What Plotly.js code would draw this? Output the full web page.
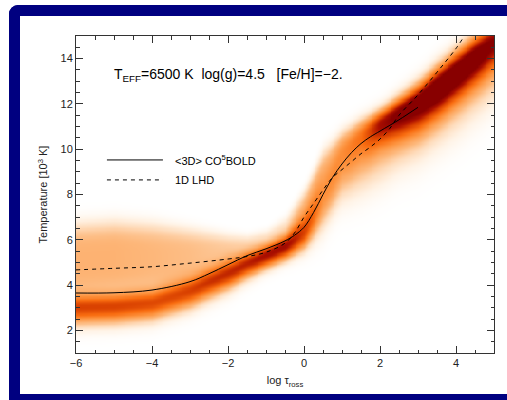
<!DOCTYPE html>
<html>
<head>
<meta charset="utf-8">
<script src="https://cdn.plot.ly/plotly-3.0.1.min.js"></script>
<style>
html,body{margin:0;padding:0;background:#fff;}
#wrap{position:relative;width:507px;height:400px;overflow:hidden;}
#plot{position:absolute;left:0;top:0;width:507px;height:400px;}
#frame{position:absolute;left:9px;top:5px;width:487px;height:378px;border-top:11px solid #000080;border-left:11px solid #000080;border-bottom:6px solid #000080;border-right:0;border-top-left-radius:9px;pointer-events:none;}
</style>
</head>
<body>
<div id="wrap"><div id="plot"></div><div id="frame"></div></div>
<script>
// ---- Mean temperature structures ----
const co5boldX = [-6, -5, -4, -3, -2.5, -2, -1.5, -1, -0.5, -0.25, 0, 0.25, 0.5, 0.75, 1, 1.25, 1.5, 1.75, 2, 2.5, 3];
const co5boldT = [3.65, 3.66, 3.78, 4.15, 4.5, 4.9, 5.3, 5.6, 5.95, 6.2, 6.55, 7.2, 8.0, 8.75, 9.35, 9.85, 10.25, 10.55, 10.8, 11.3, 11.85];
const lhdX = [-6, -5, -4, -3, -2, -1.5, -1, -0.5, -0.25, 0, 0.25, 0.5, 0.75, 1, 1.25, 1.5, 1.75, 2, 2.25, 2.5, 3, 3.5, 4, 4.2];
const lhdT = [4.67, 4.74, 4.81, 4.97, 5.15, 5.26, 5.45, 5.85, 6.3, 7.0, 7.6, 8.2, 8.75, 9.1, 9.45, 9.8, 10.1, 10.45, 10.9, 11.5, 12.4, 13.4, 14.45, 14.95];

// ---- Temperature distribution (read per log tau column) ----
const colX    = [-6, -5, -4, -3, -2, -1.5, -1, -0.5, 0, 0.5, 1, 1.5, 2, 2.5, 3, 3.5, 4, 4.5, 5];
const coreT   = [3.0, 3.05, 3.2, 3.7, 4.5, 4.95, 5.35, 5.75, 6.3, 7.8, 9.8, 10.6, 11.15, 11.65, 12.15, 12.8, 13.5, 14.2, 14.9];
const coreLo  = [0.5, 0.5, 0.5, 0.5, 0.5, 0.45, 0.4, 0.4, 0.5, 0.9, 0.9, 0.8, 0.7, 0.8, 0.9, 0.9, 0.9, 0.9, 0.9];
const coreHi  = [0.4, 0.4, 0.4, 0.4, 0.4, 0.35, 0.3, 0.3, 0.6, 0.9, 0.6, 0.5, 0.45, 0.5, 0.55, 0.6, 0.6, 0.6, 0.6];
const coreAmp = [0.72, 0.72, 0.7, 0.66, 0.62, 0.66, 0.72, 0.72, 0.5, 0.18, 0.18, 0.3, 0.66, 0.85, 0.95, 1.05, 1.05, 1.0, 0.85];
const diffT   = [5.1, 5.2, 5.2, 5.2, 5.3, 5.5, 5.7, 6.0, 7.0, 8.4, 9.5, 10.0, 10.4, 10.9, 11.4, 12.0, 12.6, 13.3, 14.0];
const diffLo  = [1.4, 1.4, 1.3, 1.2, 1.0, 0.8, 0.8, 0.8, 1.0, 1.2, 1.3, 1.4, 1.4, 1.4, 1.5, 1.5, 1.5, 1.5, 1.5];
const diffHi  = [1.4, 1.4, 1.3, 1.1, 0.8, 0.6, 0.6, 0.8, 1.0, 1.3, 1.1, 1.1, 1.0, 0.9, 0.9, 0.9, 0.9, 0.9, 0.9];
const diffAmp = [0.32, 0.32, 0.3, 0.28, 0.24, 0.2, 0.18, 0.2, 0.28, 0.3, 0.3, 0.3, 0.28, 0.25, 0.22, 0.22, 0.22, 0.22, 0.22];

const xTickVals = [-6, -4, -2, 0, 2, 4];
const yTickVals = [2, 4, 6, 8, 10, 12, 14];

function interp(xs, ys, x) {
  if (x <= xs[0]) return ys[0];
  for (let i = 1; i < xs.length; i++) {
    if (x <= xs[i]) {
      const t = (x - xs[i-1]) / (xs[i] - xs[i-1]);
      return ys[i-1] + t * (ys[i] - ys[i-1]);
    }
  }
  return ys[ys.length-1];
}
const gx = [], gy = [];
for (let x = -6; x <= 5.0001; x += 0.05) gx.push(+x.toFixed(3));
for (let y = 1; y <= 15.0001; y += 0.05) gy.push(+y.toFixed(3));
const z = gy.map(T => gx.map(x => {
  const c = interp(colX, coreT, x), cl = interp(colX, coreLo, x), ch = interp(colX, coreHi, x), ca = interp(colX, coreAmp, x);
  const d = interp(colX, diffT, x), dl = interp(colX, diffLo, x), dh = interp(colX, diffHi, x), da = interp(colX, diffAmp, x);
  const u = (T - c) / (T < c ? cl : ch);
  const v = Math.abs((T - d) / (T < d ? dl : dh));
  // lower side of the diffuse part fades softly where the band is wide (log tau > -0.5)
  const pLo = x < -0.5 ? 4 : (x < 0.5 ? 4 - 1.5 * (x + 0.5) : 2.5);
  const p = T < d ? pLo : 4;
  const val = ca * Math.exp(-0.5 * u * u) + da * Math.exp(-0.5 * Math.pow(v, p));
  return Math.min(1, val);
}));

const traces = [
  {type: 'heatmap', x: gx, y: gy, z: z, zmin: 0, zmax: 1, zsmooth: 'best', showscale: false, hoverinfo: 'skip',
   colorscale: [[0, '#ffffff'], [0.08, '#fff3e6'], [0.18, '#fedcbc'], [0.3, '#fdb77a'], [0.45, '#fd9440'],
                [0.6, '#f86c10'], [0.75, '#d84000'], [0.88, '#ac1000'], [1, '#880000']]},
  {type: 'scatter', mode: 'lines', x: co5boldX, y: co5boldT, line: {color: '#000', width: 1, shape: 'spline'}, hoverinfo: 'skip'},
  {type: 'scatter', mode: 'lines', x: lhdX, y: lhdT, line: {color: '#000', width: 1, dash: '4px,4px', shape: 'spline'}, hoverinfo: 'skip'}
];

const axisCommon = {
  showgrid: false, zeroline: false, showline: true, linecolor: '#333', linewidth: 1, mirror: 'allticks',
  ticks: 'inside', ticklen: 7, tickcolor: '#333', tickwidth: 1,
  tickfont: {family: 'Liberation Sans, Arial, sans-serif', size: 11, color: '#222'},
  minor: {dtick: 0.5, ticks: 'inside', ticklen: 3.5, tickcolor: '#333', tickwidth: 1}
};
const layout = {
  width: 507, height: 400,
  margin: {l: 76, r: 13, t: 36, b: 47},
  paper_bgcolor: '#fff', plot_bgcolor: '#fff',
  showlegend: false,
  xaxis: Object.assign({}, axisCommon, {range: [-6, 5], tickvals: xTickVals, ticktext: xTickVals.map(v => String(v).replace('-', '\u2212')),
    title: {text: 'log \u03c4<sub>ross</sub>', font: {family: 'Liberation Sans, Arial, sans-serif', size: 11, color: '#222'}, standoff: 8}}),
  yaxis: Object.assign({}, axisCommon, {range: [1, 15], tickvals: yTickVals,
    title: {text: 'Temperature [10<sup>3</sup> K]', font: {family: 'Liberation Sans, Arial, sans-serif', size: 11, color: '#222'}, standoff: 10}}),
  shapes: [
    {type: 'line', xref: 'paper', yref: 'paper', x0: 0.074, x1: 0.208, y0: 0.609, y1: 0.609, line: {color: '#000', width: 1}},
    {type: 'line', xref: 'paper', yref: 'paper', x0: 0.074, x1: 0.208, y0: 0.546, y1: 0.546, line: {color: '#000', width: 1, dash: '4px,4px'}}
  ],
  annotations: [
    {xref: 'paper', yref: 'paper', x: 0.086, y: 0.877, xanchor: 'left', yanchor: 'middle', showarrow: false,
     text: 'T<sub>EFF</sub>=6500 K\u00a0\u00a0log(g)=4.5\u00a0\u00a0\u00a0[Fe/H]=\u22122.',
     font: {family: 'Liberation Sans, Arial, sans-serif', size: 14, color: '#000'}},
    {xref: 'paper', yref: 'paper', x: 0.232, y: 0.609, xanchor: 'left', yanchor: 'middle', showarrow: false,
     text: '&lt;3D&gt; CO<sup>5</sup>BOLD', font: {family: 'Liberation Sans, Arial, sans-serif', size: 11, color: '#000'}},
    {xref: 'paper', yref: 'paper', x: 0.232, y: 0.546, xanchor: 'left', yanchor: 'middle', showarrow: false,
     text: '1D LHD', font: {family: 'Liberation Sans, Arial, sans-serif', size: 11, color: '#000'}}
  ]
};
Plotly.newPlot('plot', traces, layout, {staticPlot: true, displayModeBar: false});
</script>
</body>
</html>
